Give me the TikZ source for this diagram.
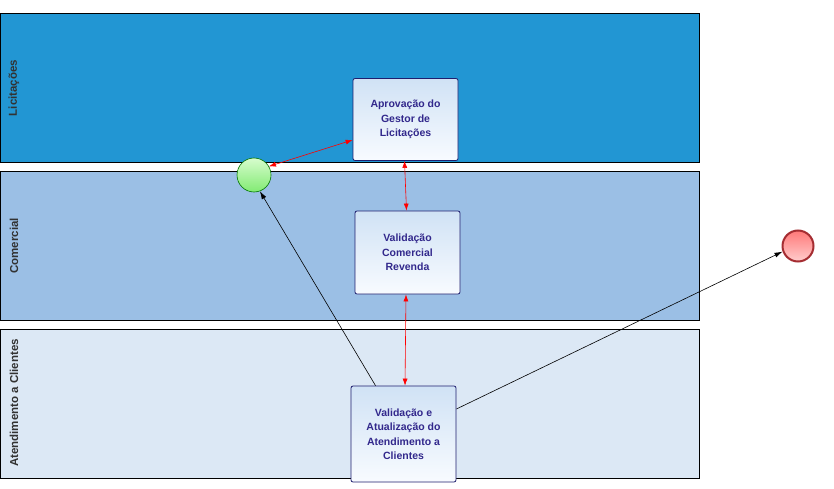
\documentclass[tikz,border=0pt]{standalone}
\usepackage{fontspec}
\setmainfont{Liberation Sans}
\usetikzlibrary{arrows.meta}
\definecolor{laneA}{RGB}{34,150,211}
\definecolor{laneB}{RGB}{155,191,229}
\definecolor{laneC}{RGB}{220,232,245}
\definecolor{txtblue}{RGB}{50,40,140}
\definecolor{boxedge}{RGB}{30,30,110}
\definecolor{lanetxt}{RGB}{50,50,50}
\definecolor{boxtop}{RGB}{208,226,245}
\definecolor{boxbot}{RGB}{248,251,255}
\definecolor{gtop}{RGB}{215,252,205}
\definecolor{gbot}{RGB}{130,235,115}
\definecolor{rtop}{RGB}{255,120,120}
\definecolor{rbot}{RGB}{255,205,205}
\definecolor{redge}{RGB}{165,45,50}
\tikzset{
  lane/.style={draw=black, line width=0.8pt},
  lanelabel/.style={rotate=90, font=\bfseries\fontsize{11.5}{13}\selectfont, text=lanetxt},
  task/.style={draw=boxedge, line width=0.8pt, rounded corners=2pt, top color=boxtop, bottom color=boxbot, minimum width=105pt, align=center, text=txtblue, font=\bfseries\fontsize{10.5}{14.5}\selectfont},
  startev/.style={circle, draw=green!45!black, line width=0.6pt, top color=gtop, bottom color=gbot, minimum size=34pt, inner sep=0pt},
  endev/.style={circle, draw=redge, line width=2pt, top color=rtop, bottom color=rbot, minimum size=31pt, inner sep=0pt},
  redlink/.style={red, line width=0.6pt, {Latex[length=7pt,width=5pt]}-{Latex[length=7pt,width=5pt]}},
  blacklink/.style={black, line width=0.6pt, -{Latex[length=8pt,width=5pt]}}
}
\begin{document}
\begin{tikzpicture}[x=1pt,y=-1pt]
\useasboundingbox (0,0) rectangle (834,489);
\fill[white] (0,0) rectangle (834,489);
% lanes
\draw[lane, fill=laneA] (0,13) rectangle (699,162);
\draw[lane, fill=laneB] (0,171) rectangle (699,320);
\draw[lane, fill=laneC] (0,329) rectangle (699,478);
\node[lanelabel] (l1) at (14,88) {Licitações};
\node[lanelabel] (l2) at (14,246) {Comercial};
\node[lanelabel] (l3) at (14,403) {Atendimento a Clientes};
% tasks
\node[task, minimum height=82pt] (A) at (405.5,119.5) {Aprovação do\\Gestor de\\Licitações};
\node[task, minimum height=83pt] (B) at (407.5,252.5) {Validação\\Comercial\\Revenda};
\node[task, minimum height=96pt] (C) at (403.5,434) {Validação e\\Atualização do\\Atendimento a\\Clientes};
% events
\node[startev] (S) at (254,175) {};
\node[endev] (E) at (798,246) {};
% connectors
\draw[redlink] (S.30) -- (A.west |- 0,140);
\draw[redlink] ([xshift=-1pt]A.south) -- ([xshift=-1pt]B.north);
\draw[redlink] ([xshift=-1.5pt]B.south) -- ([xshift=1.5pt]C.north);
\draw[blacklink] ([xshift=-28pt]C.north) -- (S.290);
\draw[blacklink] (C.east |- 0,409) -- (E.200);
\end{tikzpicture}
\end{document}
